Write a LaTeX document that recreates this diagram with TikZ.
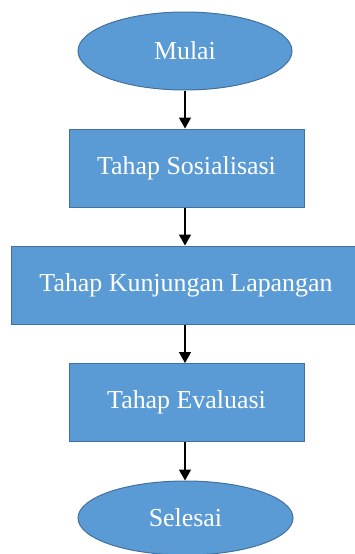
\documentclass[tikz,border=0pt]{standalone}
\usepackage{fontspec}
\setmainfont{Liberation Serif}
\usetikzlibrary{shapes.geometric,arrows.meta}
\definecolor{fillblue}{HTML}{5B9BD5}
\definecolor{edgeblue}{HTML}{41719C}
\begin{document}
\begin{tikzpicture}[x=1pt,y=-1pt,
  base/.style={fill=fillblue,draw=edgeblue,line width=1pt,text=white,font=\fontsize{25.9}{30}\selectfont,inner sep=0pt},
  term/.style={base,ellipse,minimum width=214pt,minimum height=78pt},
  stepbox/.style={base,rectangle,minimum width=235pt,minimum height=78pt},
  flow/.style={line width=1.5pt,-{Triangle[length=11pt,width=12pt]}}]
\useasboundingbox (0,0) rectangle (354,554);
\node[term] (mulai) at (185,51) {Mulai};
\node[stepbox] (sos) at (186.5,168) {Tahap Sosialisasi};
\node[stepbox,minimum width=350pt] (kun) at (186,285) {Tahap Kunjungan Lapangan};
\node[stepbox] (eva) at (186.5,402.5) {Tahap Evaluasi};
\node[term,minimum width=215pt,minimum height=74pt] (sel) at (185.5,518) {Selesai};
\draw[flow] (mulai.south) -- (sos.north -| mulai.south);
\draw[flow] (sos.south -| mulai.south) -- (kun.north -| mulai.south);
\draw[flow] (kun.south -| mulai.south) -- (eva.north -| mulai.south);
\draw[flow] (eva.south -| mulai.south) -- (sel.north -| mulai.south);
\end{tikzpicture}
\end{document}
